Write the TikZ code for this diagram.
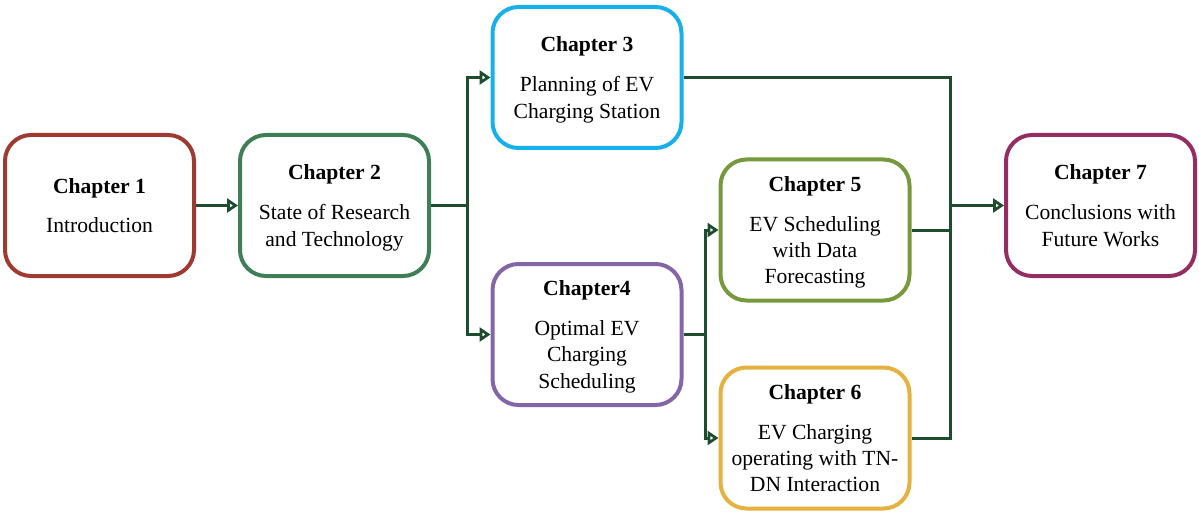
\documentclass[tikz,border=0pt]{standalone}
\usepackage{fontspec}
\setmainfont{Liberation Serif}
\usetikzlibrary{arrows.meta,calc}

\definecolor{cOne}{HTML}{9F3A30}
\definecolor{cTwo}{HTML}{3F7F55}
\definecolor{cThree}{HTML}{16B1EC}
\definecolor{cFour}{HTML}{8466A8}
\definecolor{cFive}{HTML}{77993D}
\definecolor{cSix}{HTML}{E5B140}
\definecolor{cSeven}{HTML}{942D62}
\definecolor{wire}{HTML}{1D4D2E}

% heading line of a chapter box
\newcommand{\chaphead}[1]{\textbf{#1}\\[13.5pt]}
% last line of a box, its descenders ignored so every block centres alike
\newcommand{\lastln}[1]{\raisebox{0pt}[\height][0pt]{#1}}

\begin{document}
\begin{tikzpicture}[x=1pt,y=-1pt,
  chap/.style={draw=#1, line width=4pt, rounded corners=26pt,
    minimum width=189pt, minimum height=141pt, align=center,
    font=\fontsize{21.6}{26.3}\selectfont, fill=white},
  conn/.style={draw=wire, line width=3pt},
  tip/.style={-{Triangle[open,length=11pt,width=14pt,line width=2.8pt]}}
]
\useasboundingbox (0,0) rectangle (1199,513);

\node[chap=cOne]   (c1) at (99.5,205.5)  {\chaphead{Chapter 1}\lastln{Introduction}};
\node[chap=cTwo]   (c2) at (334.5,205.5) {\chaphead{Chapter 2}State of Research\\\lastln{and Technology}};
\node[chap=cThree] (c3) at (587,77.5)    {\chaphead{Chapter 3}Planning of EV\\\lastln{Charging Station}};
\node[chap=cFour]  (c4) at (587,334.5)   {\chaphead{Chapter4}Optimal EV\\Charging\\\lastln{Scheduling}};
\node[chap=cFive]  (c5) at (815,230)     {\chaphead{Chapter 5}EV Scheduling\\with Data\\\lastln{Forecasting}};
\node[chap=cSix]   (c6) at (815,438)     {\chaphead{Chapter 6}EV Charging\\operating with TN-\\\lastln{DN Interaction}};
\node[chap=cSeven] (c7) at (1100.5,205.5){\chaphead{Chapter 7}Conclusions with\\\lastln{Future Works}};

% junction points of the wiring
\coordinate (j2) at ($(c2.east)+(36,0)$);
\coordinate (j4) at ($(c4.east)+(22,0)$);
\coordinate (j7) at (950,438);

\draw[conn,tip] (c1.east) -- (c2.west);

\draw[conn] (c2.east) -- (j2);
\draw[conn,tip] (j2) |- (c3.west);
\draw[conn,tip] (j2) |- (c4.west);

\draw[conn] (c4.east) -- (j4);
\draw[conn,tip] (j4) |- (c5.west);
\draw[conn,tip] (j4) |- (c6.west);

\draw[conn] (c3.east) -| (j7) -- (c6.east);
\draw[conn] (c5.east) -- (c5.east -| j7);
\draw[conn,tip] (c7.west -| j7) -- (c7.west);
\end{tikzpicture}
\end{document}
